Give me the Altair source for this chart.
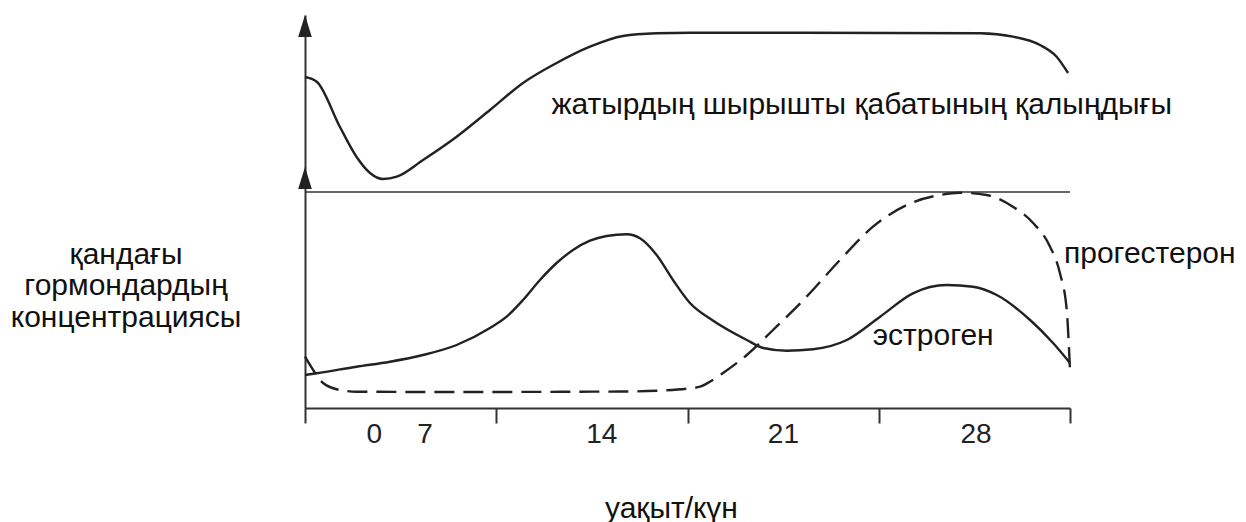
import altair as alt
import pandas as pd

# ---- data (x: day units, 0..28 across the axis; y: arbitrary level units) ----
endo_x = [0, 0.43, 1.28, 1.89, 2.38, 2.85, 3.36, 4.32, 5.55, 6.77, 7.98, 9.21, 10.43,
          11.64, 12.87, 14.09, 18.12, 24.71, 25.91, 26.90, 27.51, 27.93]
endo_y = [331, 326.3, 281, 251, 235, 229, 231.3, 248, 271.3, 298, 325, 345, 361.3,
          372, 374.7, 375.3, 375.3, 374.7, 371.3, 363, 351.3, 335]

estr_x = [0, 0.43, 1.89, 3.11, 4.32, 5.55, 6.77, 7.38, 7.98, 8.60, 9.21, 9.81, 10.43,
          11.04, 11.78, 12.26, 12.87, 13.47, 14.09, 14.90, 16.17, 16.77, 17.63, 18.59,
          19.83, 21.05, 22.25, 23.49, 24.45, 25.32, 26.54, 27.38, 28]
estr_y = [33, 34.7, 41.3, 46.3, 53, 63, 80, 91.3, 108, 128, 145, 158, 167.3,
          172, 173.7, 169.7, 153, 128, 105, 88, 68, 60, 57.3, 58.7,
          68, 91.3, 114.7, 123, 121.3, 113, 88, 65, 45]

prog_x = [0, 0.37, 0.66, 1.28, 1.89, 5.31, 11.64, 12.87, 14.09, 14.46, 14.82, 15.30,
          16.17, 17.13, 18.36, 19.58, 20.79, 22.02, 23.24, 23.97, 24.95, 25.91, 26.65,
          27.27, 27.63, 27.88, 28]
prog_y = [51.3, 35, 25, 18, 16.3, 16, 16.5, 17.3, 19.7, 21.3, 26.3, 35,
          53, 78, 111.3, 148, 181.3, 203, 213, 215.3, 213, 201.3, 185,
          161.3, 135, 98, 38]

tick_days = [0, 7, 14, 21, 28]
tick_label_text = ["0", "7", "14", "21", "28"]
tick_label_x = [2.54, 4.39, 10.86, 17.51, 24.56]

divider_level = 216
arrow_levels = [382, 230]

label_text = ["жатырдың шырышты қабатының қалыңдығы", "прогестерон", "эстроген", "уақыт/күн"]
label_x = [9.02, 27.78, 20.78, 10.98]
label_y = [293.7, 144.7, 63, -110]

ylabel_lines = ["қандағы", "гормондардың", "концентрациясы"]
ylabel_x = -6.55
ylabel_y = [144, 113, 81.3]

# ---- build tables ----
endo = pd.DataFrame({"d": endo_x, "v": endo_y})
estr = pd.DataFrame({"d": estr_x, "v": estr_y})
prog = pd.DataFrame({"d": prog_x, "v": prog_y})
ticklab = pd.DataFrame({"d": tick_label_x, "t": tick_label_text})
labels = pd.DataFrame({"d": label_x, "v": label_y, "t": label_text})
ylab = pd.DataFrame({"d": [ylabel_x] * 3, "v": ylabel_y, "t": ylabel_lines})
arrows = pd.DataFrame({"d": [0, 0], "v": arrow_levels})
divider = pd.DataFrame({"d": [0], "d2": [28], "v": [divider_level]})

INK = "#222222"
AX = "#333333"
FONT = "Liberation Sans"

xs = alt.Scale(domain=[0, 28], nice=False, zero=False)
ys = alt.Scale(domain=[0, 393], nice=False, zero=False)

X = alt.X("d:Q", scale=xs,
          axis=alt.Axis(values=tick_days, labels=False, title=None, grid=False,
                        tickSize=15, tickWidth=2, tickColor=AX,
                        domainWidth=2, domainColor=AX))
Y = alt.Y("v:Q", scale=ys,
          axis=alt.Axis(labels=False, ticks=False, title=None, grid=False,
                        domainWidth=2, domainColor=AX))

base_line = dict(interpolate="monotone", color=INK, strokeWidth=2.4, clip=False)

endo_l = alt.Chart(endo).mark_line(**base_line).encode(x=X, y=Y)
estr_l = alt.Chart(estr).mark_line(**base_line).encode(x="d:Q", y="v:Q")
prog_l = alt.Chart(prog).mark_line(**base_line, strokeDash=[20, 9]).encode(x="d:Q", y="v:Q")

div_l = alt.Chart(divider).mark_rule(color=AX, strokeWidth=1.6).encode(
    x="d:Q", x2="d2:Q", y="v:Q")

arrow_m = alt.Chart(arrows).mark_point(
    shape="M0,-1L0.62,1L-0.62,1Z", filled=True, color=INK, opacity=1, size=484
).encode(x="d:Q", y="v:Q")

tick_t = alt.Chart(ticklab).mark_text(
    font=FONT, fontSize=28, color="#222", align="center", baseline="alphabetic"
).encode(x="d:Q", y=alt.value(393 + 34.7), text="t:N")

lab_t = alt.Chart(labels).mark_text(
    font=FONT, fontSize=30, color="#111", align="left", baseline="alphabetic"
).encode(x="d:Q", y="v:Q", text="t:N")

ylab_t = alt.Chart(ylab).mark_text(
    font=FONT, fontSize=30, color="#111", align="center", baseline="alphabetic"
).encode(x="d:Q", y="v:Q", text="t:N")

chart = alt.layer(
    div_l, endo_l, estr_l, prog_l, arrow_m, tick_t, lab_t, ylab_t
).properties(
    width=765, height=393,
    autosize=alt.AutoSizeParams(type="none"),
    padding={"left": 297, "top": 7, "right": 168, "bottom": 120},
    background="white",
).configure_view(stroke=None)

chart.save("out.html", embed_options={"renderer": "svg", "actions": False})
